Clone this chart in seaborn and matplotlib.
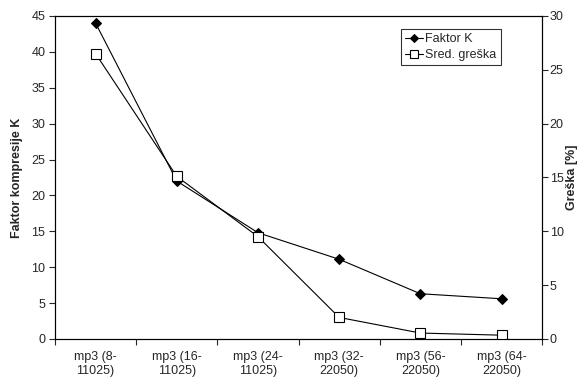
import matplotlib
matplotlib.use("Agg")
import matplotlib.pyplot as plt
import seaborn as sns
import numpy as np

sns.set_style("white")
plt.rcParams['font.family'] = ['Liberation Sans', 'DejaVu Sans']
plt.rcParams['font.size'] = 9

# Podaci
kategorije = ["mp3 (8-\n11025)", "mp3 (16-\n11025)", "mp3 (24-\n11025)",
              "mp3 (32-\n22050)", "mp3 (56-\n22050)", "mp3 (64-\n22050)"]
faktor_k = [44.0, 22.0, 14.8, 11.1, 6.3, 5.6]
sred_greska = [26.5, 15.1, 9.5, 2.0, 0.55, 0.35]

x = np.arange(len(kategorije))

fig = plt.figure(figsize=(5.82, 3.8), dpi=100)
ax = fig.add_axes([0.0945, 0.108, 0.837, 0.850])
ax2 = ax.twinx()

sns.lineplot(x=x, y=faktor_k, ax=ax, color="black", lw=0.8, marker="D",
             markersize=5, markerfacecolor="black", markeredgecolor="black",
             label="Faktor K", legend=False)
sns.lineplot(x=x, y=sred_greska, ax=ax2, color="black", lw=0.8, marker="s",
             markersize=7, markerfacecolor="white", markeredgecolor="black",
             markeredgewidth=0.8, label="Sred. greška", legend=False)

ax.set_xlim(-0.5, len(kategorije) - 0.5)
ax.set_ylim(0, 45)
ax2.set_ylim(0, 30)
ax.set_yticks(range(0, 46, 5))
ax2.set_yticks(range(0, 31, 5))

ax.set_xticks(x)
ax.set_xticklabels(kategorije, fontsize=9)
ax.set_xticks(np.arange(-0.5, len(kategorije), 1), minor=True)
ax.tick_params(axis="x", which="major", length=0, pad=9)
ax.tick_params(axis="x", which="minor", length=4, width=0.8, direction="out", bottom=True)
ax.tick_params(axis="y", length=4, width=0.8, direction="out", left=True, labelsize=9, pad=3)
ax2.tick_params(axis="y", length=4, width=0.8, direction="out", right=True, labelsize=9, pad=1.5)

for a in (ax, ax2):
    for s in a.spines.values():
        s.set_color("black")
        s.set_linewidth(0.8)

ax.set_ylabel("Faktor kompresije K", fontweight="bold", fontsize=9)
ax2.set_ylabel("Greška [%]", fontweight="bold", fontsize=9)
ax.yaxis.set_label_coords(-0.066, 0.5)
ax2.yaxis.set_label_coords(1.049, 0.5)

h1, l1 = ax.get_legend_handles_labels()
h2, l2 = ax2.get_legend_handles_labels()
leg = ax2.legend(h1 + h2, l1 + l2, loc="upper right", bbox_to_anchor=(0.915, 0.96),
                 frameon=True, fancybox=False, edgecolor="black", fontsize=9,
                 markerscale=0.75, handlelength=1.4, handletextpad=0.2,
                 borderpad=0.35, labelspacing=0.3, borderaxespad=0)
leg.get_frame().set_linewidth(0.8)

fig.savefig("out.png", dpi=100)
